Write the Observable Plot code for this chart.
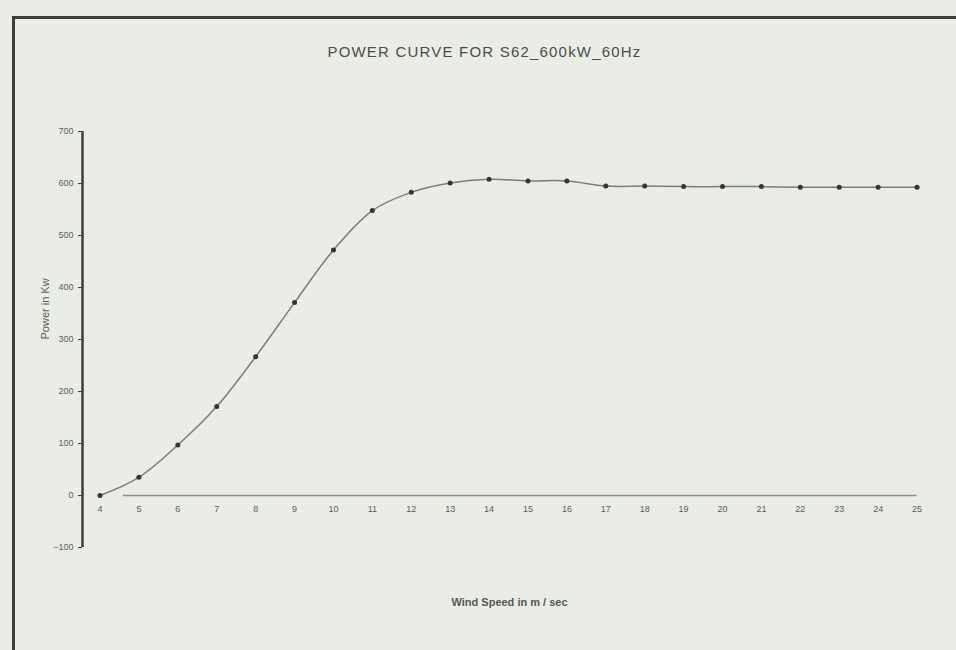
<!DOCTYPE html>
<html>
<head>
<meta charset="utf-8">
<script src="https://cdn.jsdelivr.net/npm/d3@7"></script>
<script src="https://cdn.jsdelivr.net/npm/@observablehq/plot@0.6"></script>
<style>
  html, body { margin: 0; padding: 0; background: #e9ede6; overflow: hidden; }
  body { width: 956px; height: 650px; position: relative; font-family: "Liberation Sans", Arial, sans-serif; }
  #frame {
    position: absolute; left: 12px; top: 16px; width: 950px; height: 640px;
    border-left: 3px solid #3c3f3c; border-top: 3px solid #3c3f3c; box-sizing: border-box;
  }
  #title {
    height: 66px; padding-top: 22px; box-sizing: border-box; line-height: 22px;
    font-size: 15px; letter-spacing: 1.2px; color: #4a4d4a; text-align: center;
    padding-right: 8px;
  }
  svg { display: block; }
</style>
</head>
<body>
<div id="frame">
  <div id="title">POWER CURVE FOR S62_600kW_60Hz</div>
  <div id="chart"></div>
</div>
<script>
const windSpeed = [4, 5, 6, 7, 8, 9, 10, 11, 12, 13, 14, 15, 16, 17, 18, 19, 20, 21, 22, 23, 24, 25];
const powerKw   = [0, 35, 97, 171, 267, 371, 472, 548, 583, 601, 608, 605, 605, 595, 595, 594, 594, 594, 593, 593, 593, 593];
const yTicks = [-100, 0, 100, 200, 300, 400, 500, 600, 700];
const xTicks = windSpeed;
const titleText = "POWER CURVE FOR S62_600kW_60Hz";
const xLabel = "Wind Speed in m / sec";
const yLabel = "Power in Kw";

const data = windSpeed.map((w, i) => ({w, p: powerKw[i]}));

const chart = Plot.plot({
  width: 941,
  height: 565,
  marginTop: 46,
  marginBottom: 103,
  marginLeft: 67,
  marginRight: 20,
  style: {background: "transparent", fontFamily: "Liberation Sans, Arial, sans-serif", color: "#505350"},
  x: {domain: [3.55, 25.5], axis: null},
  y: {domain: [-100, 700], axis: null},
  marks: [
    Plot.ruleY([0], {x1: 4.6, x2: 25, stroke: "#8a8d8a", strokeWidth: 1.6}),
    Plot.axisY({ticks: yTicks, tickSize: 4, tickPadding: 5, stroke: "#3c3f3c", fontSize: 9, label: null, fill: "#5a5d5a"}),
    Plot.ruleX([3.55], {y1: -100, y2: 700, stroke: "#3c3f3c", strokeWidth: 2.5}),
    Plot.text(xTicks, {x: d => d, y: 0, dy: 14, text: d => String(d), fontSize: 9, fill: "#5a5d5a"}),
    Plot.text([xLabel], {frameAnchor: "bottom", dy: 58, fontSize: 11, fontWeight: "bold", fill: "#555855"}),
    Plot.text([yLabel], {frameAnchor: "left", dx: -37, rotate: -90, fontSize: 11, fill: "#5a5d5a"}),
    Plot.line(data, {x: "w", y: "p", curve: "catmull-rom", stroke: "#7a7d7a", strokeWidth: 1.5}),
    Plot.dot(data, {x: "w", y: "p", r: 2.5, fill: "#333633", stroke: "none"})
  ]
});
document.getElementById("chart").appendChild(chart);
</script>
</body>
</html>
